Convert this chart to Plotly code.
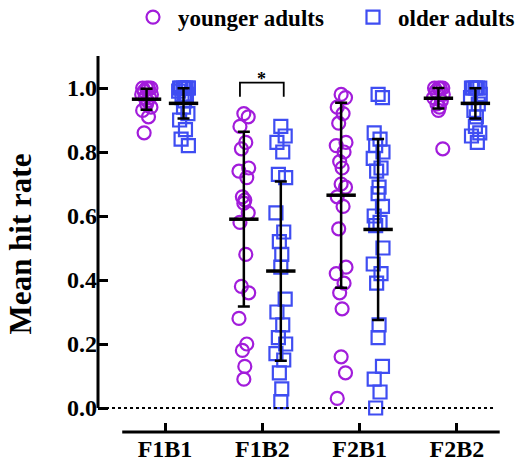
import plotly.graph_objects as go

categories = ["F1B1", "F1B2", "F2B1", "F2B2"]

young_F1B1 = [1.0, 1.0, 1.0, 1.0, 0.99, 0.98, 0.98, 0.97, 0.97, 0.96, 0.95, 0.94, 0.93, 0.91, 0.86]
young_F1B2 = [0.92, 0.91, 0.88, 0.83, 0.81, 0.75, 0.74, 0.72, 0.66, 0.65, 0.64, 0.61, 0.58,
              0.48, 0.38, 0.36, 0.28, 0.20, 0.18, 0.13, 0.09]
young_F2B1 = [0.98, 0.97, 0.94, 0.92, 0.89, 0.83, 0.82, 0.80, 0.77, 0.75, 0.70, 0.69, 0.66,
              0.63, 0.56, 0.44, 0.42, 0.39, 0.36, 0.31, 0.16, 0.11, 0.03]
young_F2B2 = [1.0, 1.0, 1.0, 1.0, 0.99, 0.98, 0.97, 0.96, 0.95, 0.94, 0.93, 0.81]

old_F1B1 = [1.0, 1.0, 1.0, 1.0, 1.0, 1.0, 0.99, 0.98, 0.97, 0.96, 0.94, 0.92, 0.90, 0.87, 0.84, 0.82]
old_F1B2 = [0.88, 0.85, 0.83, 0.80, 0.73, 0.72, 0.61, 0.55, 0.52, 0.48, 0.44, 0.34, 0.30,
            0.26, 0.22, 0.20, 0.17, 0.15, 0.11, 0.06, 0.02]
old_F2B1 = [0.98, 0.97, 0.86, 0.84, 0.82, 0.80, 0.78, 0.75, 0.74, 0.69, 0.67, 0.63, 0.60,
            0.58, 0.57, 0.50, 0.45, 0.42, 0.39, 0.26, 0.22, 0.13, 0.09, 0.05, 0.0]
old_F2B2 = [1.0, 1.0, 1.0, 1.0, 1.0, 0.98, 0.97, 0.95, 0.93, 0.91, 0.88, 0.86, 0.85, 0.83]

young_mean = [0.965, 0.59, 0.665, 0.968]
young_sd = [0.033, 0.273, 0.289, 0.032]
old_mean = [0.952, 0.428, 0.558, 0.952]
old_sd = [0.047, 0.28, 0.283, 0.047]

young_all = [young_F1B1, young_F1B2, young_F2B1, young_F2B2]
old_all = [old_F1B1, old_F1B2, old_F2B1, old_F2B2]

PURPLE = "#A21CDB"
BLUE = "#3F4DF2"
FONT = "Liberation Serif"
OFF = 0.19
jit = [0.0, 0.045, -0.04, 0.02, -0.025, 0.05, -0.05, 0.03, -0.015, 0.01]


def xs_for(idx, n, off):
    return [idx + off + jit[i % len(jit)] for i in range(n)]


fig = go.Figure()

yx, yy, ox, oy = [], [], [], []
for i, vals in enumerate(young_all):
    yx += xs_for(i, len(vals), -OFF)
    yy += vals
for i, vals in enumerate(old_all):
    ox += xs_for(i, len(vals), OFF)
    oy += vals

fig.add_trace(go.Scatter(x=yx, y=yy, mode="markers", name="younger adults", legend="legend",
                         marker=dict(symbol="circle-open", size=13, color=PURPLE,
                                     line=dict(width=2.2, color=PURPLE))))
fig.add_trace(go.Scatter(x=ox, y=oy, mode="markers", name="older adults", legend="legend2",
                         marker=dict(symbol="square-open", size=13, color=BLUE,
                                     line=dict(width=2.2, color=BLUE))))

for means, sds, off in [(young_mean, young_sd, -OFF), (old_mean, old_sd, OFF)]:
    fig.add_trace(go.Scatter(
        x=[i + off for i in range(4)], y=means, mode="markers", showlegend=False,
        marker=dict(symbol="line-ew", size=21, color="black",
                    line=dict(width=3.5, color="black")),
        error_y=dict(type="data", array=sds, visible=True, color="black",
                     thickness=2.5, width=6)))

# zero dotted line
fig.add_shape(type="line", xref="paper", yref="y", x0=0.005, x1=0.985, y0=0, y1=0,
              line=dict(color="black", width=2, dash="dot"))
# y axis line
fig.add_shape(type="line", xref="paper", yref="y", x0=0, x1=0, y0=0, y1=1.1,
              line=dict(color="black", width=3))
# x axis line
fig.add_shape(type="line", xref="x", yref="paper", x0=-0.44, x1=3.44, y0=0, y1=0,
              line=dict(color="black", width=3))
# significance bracket
fig.add_shape(type="path", xref="x", yref="y",
              path="M 0.77 0.973 L 0.77 1.017 L 1.22 1.017 L 1.22 0.973",
              line=dict(color="black", width=1.8))
fig.add_annotation(x=0.995, y=0.99, xref="x", yref="y", text="*", showarrow=False,
                   yanchor="bottom", font=dict(family=FONT, size=18, color="black"))

leg_common = dict(orientation="h", xref="container", yref="container",
                  xanchor="left", yanchor="middle", itemwidth=40,
                  font=dict(family=FONT, size=23, weight="bold", color="black"))

fig.update_layout(
    width=530, height=463,
    margin=dict(l=98, r=30, t=56, b=31, autoexpand=False),
    plot_bgcolor="white", paper_bgcolor="white",
    font=dict(family=FONT, color="black", weight="bold"),
    showlegend=True,
    legend=dict(x=0.2415, y=0.963, **leg_common),
    legend2=dict(x=0.6566, y=0.963, **leg_common),
    xaxis=dict(range=[-0.689, 3.443], tickmode="array", tickvals=[0, 1, 2, 3],
               ticktext=categories, ticks="inside", ticklen=9, tickwidth=3,
               tickcolor="black", showline=False, showgrid=False, zeroline=False,
               automargin=False,
               tickfont=dict(family=FONT, size=24, weight="bold")),
    yaxis=dict(range=[-0.075, 1.1], tickmode="array", tickvals=[0, 0.2, 0.4, 0.6, 0.8, 1.0],
               ticktext=["0.0", "0.2", "0.4", "0.6", "0.8", "1.0"],
               ticks="inside", ticklen=10, tickwidth=3, tickcolor="black",
               showline=False, showgrid=False, zeroline=False, automargin=False,
               tickfont=dict(family=FONT, size=24, weight="bold"),
               title=dict(text="Mean hit rate", standoff=26,
                          font=dict(family=FONT, size=31, weight="bold"))),
)

fig.write_html("out.html", config={"displayModeBar": False},
               post_script="document.body.style.margin='0';")
